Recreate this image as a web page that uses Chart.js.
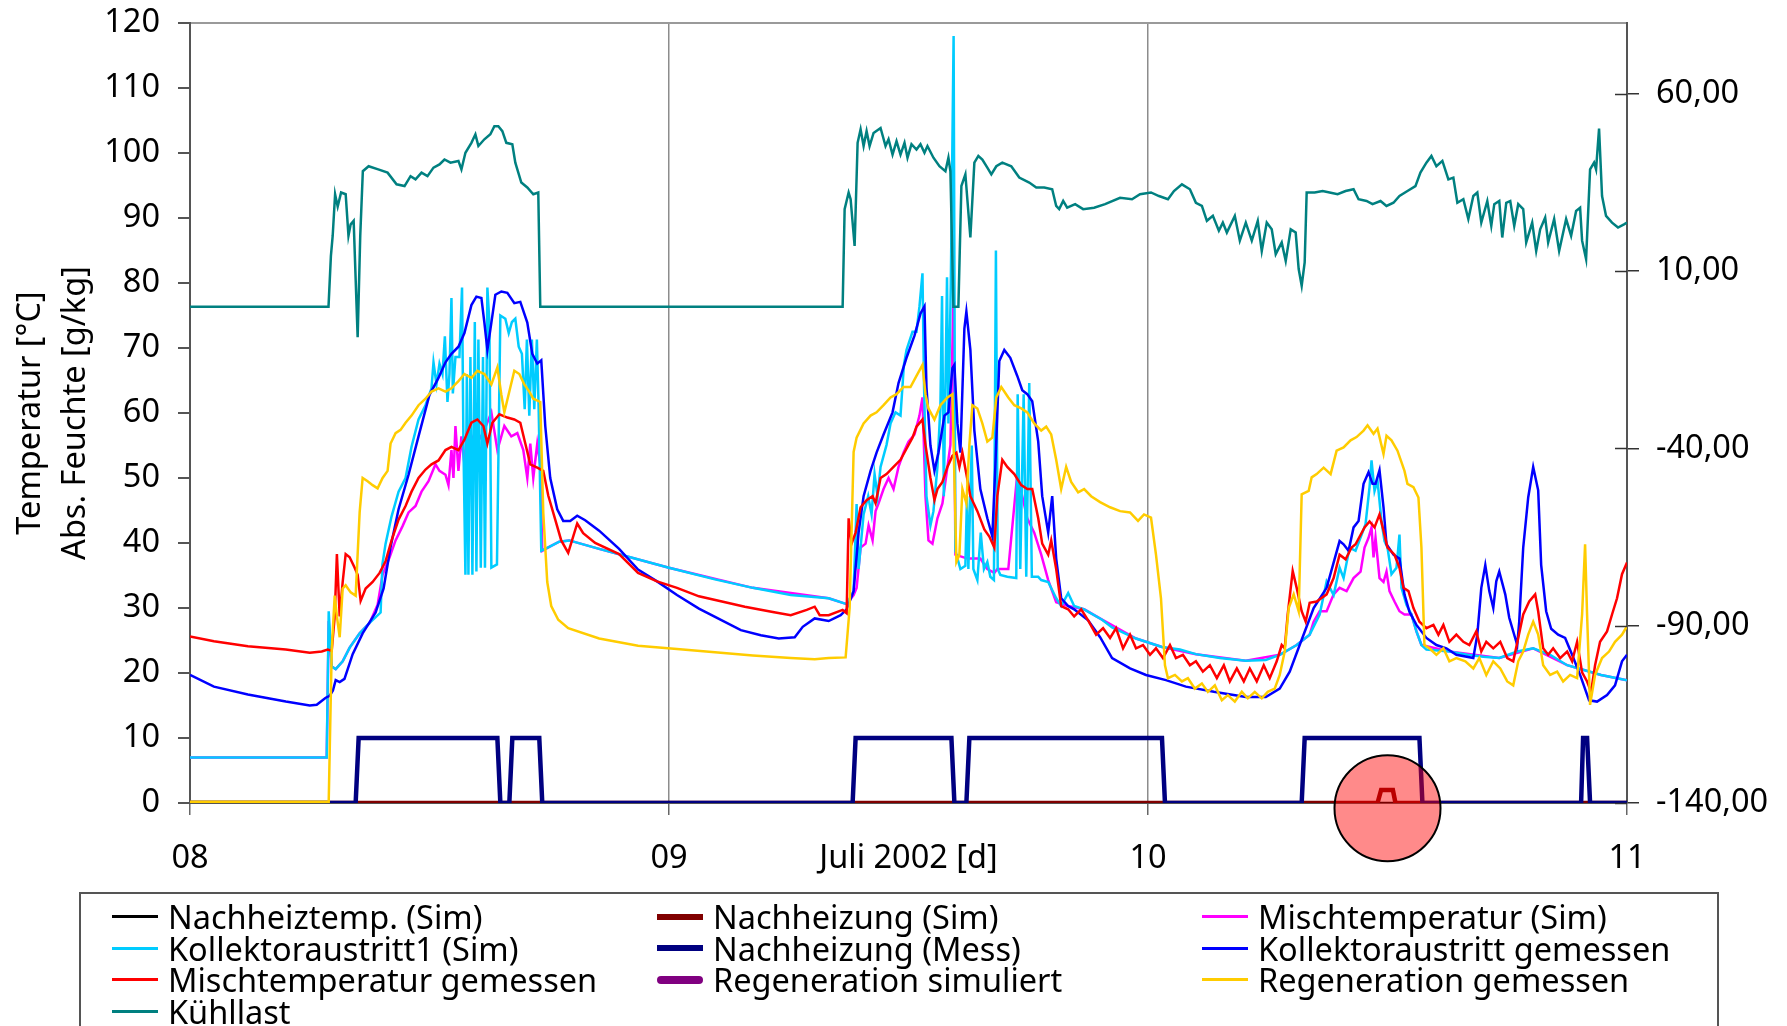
<!DOCTYPE html>
<html>
<head>
<meta charset="utf-8">
<script src="https://cdn.jsdelivr.net/npm/chart.js@4.4.1/dist/chart.umd.min.js"></script>
<style>
html, body { margin: 0; padding: 0; background: #fff; }
#wrap { position: relative; width: 1787px; height: 1026px; overflow: hidden; }
#legend {
    position: absolute; left: 79px; top: 892px; width: 1640px; height: 137px;
    border: 2px solid #555; box-sizing: border-box;
    display: grid; grid-template-columns: 545px 545px 500px; grid-auto-rows: 31.5px;
    padding: 7px 0 0 31px;
    font: 32.5px "Noto Sans", "DejaVu Sans", sans-serif; line-height: 31.5px; color: #000;
}
.item { display: flex; align-items: center; white-space: nowrap; }
.swatch { width: 46px; margin-right: 10px; flex: none; }
</style>
</head>
<body>
<div id="wrap">
    <canvas id="chart" width="1787" height="1026"></canvas>
    <div id="legend"></div>
</div>
<script>
// Hours since 08 Juli 00:00

const xTickHours = [0, 24, 36, 48, 72];
const xTickLabels = ['08', '09', 'Juli 2002 [d]', '10', '11'];
const rightTicks = [-140, -90, -40, 10, 60];
const yTitleLines = ['Temperatur [°C]', 'Abs. Feuchte [g/kg]'];

// Nachheiztemp. (Sim)
const nachheiztempHours = [0, 72];
const nachheiztempValues = [0, 0];

// Nachheizung (Sim)
const nachheizSimHours = [0, 59.5, 59.68, 60.27, 60.4, 72];
const nachheizSimValues = [0, 0, 2, 2, 0, 0];

// Nachheizung (Mess)
const nachheizMessHours = [0, 8.3, 8.45, 15.4, 15.55, 16.0, 16.15, 17.5, 17.65, 33.2,
    33.35, 38.15, 38.3, 38.9, 39.05, 48.7, 48.85, 55.7, 55.85, 61.6,
    61.75, 69.7, 69.8, 70.0, 70.15, 72];
const nachheizMessValues = [0, 0, 10, 10, 0, 0, 10, 10, 0, 0,
    10, 10, 0, 0, 10, 10, 0, 0, 10, 10,
    0, 0, 10, 10, 0, 0];

// Regeneration simuliert (no values in this period)
const regSimHours = [];
const regSimValues = [];

// Kollektoraustritt1 (Sim)
const kollSimHours = [0, 6.85, 6.95, 7.1, 7.3, 7.65, 8.0, 8.5, 9.0, 9.55,
    9.64, 9.8, 10.1, 10.45, 10.8, 11.1, 11.45, 11.8, 12.1, 12.2,
    12.35, 12.5, 12.65, 12.77, 12.9, 13.0, 13.1, 13.17, 13.3, 13.5,
    13.63, 13.7, 13.8, 13.87, 13.95, 14.05, 14.15, 14.27, 14.35, 14.45,
    14.57, 14.68, 14.78, 14.9, 15.0, 15.1, 15.38, 15.55, 15.8, 15.97,
    16.13, 16.3, 16.47, 16.63, 16.77, 16.88, 17.0, 17.13, 17.25, 17.38,
    17.47, 17.6, 18.0, 18.5, 19.0, 20.5, 22.06, 24.0, 26.3, 28.2,
    30.1, 32.0, 32.9, 33.25, 33.4, 33.5, 33.75, 33.98, 34.15, 34.3,
    34.45, 34.6, 34.9, 35.1, 35.35, 35.6, 35.77, 35.9, 36.2, 36.4,
    36.55, 36.7, 36.78, 36.9, 37.1, 37.25, 37.45, 37.6, 37.68, 37.77,
    37.93, 38.0, 38.12, 38.26, 38.35, 38.6, 38.85, 38.93, 39.0, 39.17,
    39.25, 39.45, 39.62, 39.78, 39.95, 40.1, 40.28, 40.38, 40.47, 40.6,
    40.95, 41.4, 41.47, 41.6, 41.77, 41.9, 42.05, 42.18, 42.5, 42.65,
    43.0, 43.4, 43.65, 44.0, 44.3, 44.8, 45.7, 46.2, 47.4, 48.7,
    49.6, 50.4, 51.6, 52.9, 53.9, 54.6, 55.45, 56.1, 56.6, 56.95,
    57.3, 57.6, 57.8, 58.1, 58.4, 58.9, 59.1, 59.2, 59.35, 59.5,
    59.7, 59.85, 60.0, 60.2, 60.45, 60.6, 60.7, 60.95, 61.2, 61.45,
    61.7, 61.95, 63.1, 64.0, 64.8, 65.6, 66.5, 67.3, 68.15, 69.0,
    69.8, 70.7, 71.5, 72];
const kollSimValues = [7.0, 7.0, 29.5, 21.0, 20.6, 21.8, 23.9, 26.1, 27.7, 29.3,
    36.7, 39.9, 44.1, 47.9, 50.0, 54.8, 59.0, 61.2, 63.8, 67.8,
    64.4, 67.6, 66.0, 71.8, 61.7, 66.0, 77.7, 63.0, 68.6, 68.6,
    79.3, 55.3, 35.1, 66.0, 35.1, 68.6, 35.1, 74.0, 35.6, 71.3,
    36.2, 68.6, 36.2, 79.3, 74.0, 36.2, 36.7, 75.0, 74.5, 72.3,
    74.0, 74.5, 70.2, 69.1, 60.6, 71.3, 59.6, 71.3, 60.6, 71.3,
    60.6, 38.8, 39.4, 40.2, 40.4, 39.1, 37.8, 36.2, 34.4, 33.1,
    32.0, 31.5, 30.6, 32.6, 46.0, 36.0, 44.4, 47.2, 44.4, 50.6,
    47.2, 51.7, 55.1, 58.4, 60.1, 59.6, 67.4, 69.7, 72.5, 72.5,
    76.4, 81.5, 64.0, 47.2, 42.7, 44.9, 51.7, 61.2, 78.0, 47.2,
    80.9, 58.4, 79.8, 118.0, 38.8, 36.0, 36.5, 47.2, 36.0, 55.0,
    36.0, 34.3, 41.6, 36.0, 37.1, 34.8, 34.3, 85.0, 36.0, 35.1,
    34.8, 34.6, 62.9, 36.0, 62.9, 34.8, 64.6, 34.8, 34.8, 34.3,
    34.0, 31.5, 30.3, 32.3, 30.3, 29.8, 28.2, 27.0, 25.3, 24.0,
    23.6, 22.9, 22.3, 21.9, 22.0, 22.8, 24.3, 25.9, 29.0, 34.1,
    32.0, 36.2, 34.6, 39.3, 38.8, 42.9, 48.6, 52.7, 48.0, 49.6,
    43.3, 40.3, 39.3, 35.2, 36.2, 41.3, 33.1, 30.5, 29.0, 26.4,
    24.3, 23.6, 23.3, 22.8, 22.5, 22.3, 23.3, 23.8, 22.8, 21.2,
    20.5, 19.7, 19.2, 18.9];

// Kollektoraustritt gemessen
const kollMessHours = [0, 1.2, 2.9, 4.8, 6.0, 6.35, 6.8, 7.0, 7.16, 7.3,
    7.5, 7.74, 8.15, 8.65, 9.3, 9.7, 10.05, 10.45, 10.95, 11.45,
    12.0, 12.45, 12.8, 13.1, 13.45, 13.75, 14.1, 14.35, 14.6, 14.75,
    14.9, 15.1, 15.3, 15.6, 15.9, 16.25, 16.55, 16.9, 17.15, 17.4,
    17.6, 17.8, 18.05, 18.4, 18.7, 19.05, 19.4, 19.8, 20.5, 21.5,
    22.45, 23.4, 24.4, 25.5, 26.65, 27.6, 28.6, 29.5, 30.3, 30.7,
    31.3, 32.0, 32.6, 32.9, 33.25, 33.5, 33.75, 34.1, 34.4, 34.75,
    35.2, 35.5, 35.9, 36.3, 36.6, 36.8, 36.9, 37.1, 37.3, 37.5,
    37.8, 38.0, 38.2, 38.3, 38.45, 38.6, 38.8, 38.9, 39.1, 39.3,
    39.6, 39.95, 40.2, 40.35, 40.55, 40.8, 41.1, 41.45, 41.7, 41.95,
    42.2, 42.5, 42.7, 43.0, 43.2, 43.4, 43.65, 44.0, 44.3, 45.0,
    45.6, 46.2, 47.1, 47.9, 48.9, 49.9, 51.3, 52.9, 53.9, 54.6,
    55.1, 55.6, 56.3, 56.95, 57.6, 57.8, 58.05, 58.3, 58.55, 58.8,
    59.05, 59.25, 59.4, 59.6, 59.8, 59.95, 60.3, 60.6, 60.85, 61.1,
    61.45, 61.95, 62.45, 62.95, 63.45, 64.3, 64.5, 64.7, 64.9, 65.1,
    65.3, 65.45, 65.6, 65.9, 66.1, 66.5, 66.6, 66.8, 67.05, 67.3,
    67.55, 67.7, 67.95, 68.2, 68.55, 68.9, 69.25, 69.65, 70.1, 70.5,
    71.0, 71.4, 71.75, 72];
const kollMessValues = [19.7, 17.9, 16.7, 15.6, 15.0, 15.1, 16.2, 16.5, 17.3, 18.9,
    18.6, 19.1, 22.9, 26.1, 29.3, 33.0, 39.4, 45.2, 50.5, 56.4,
    62.8, 65.4, 67.8, 69.1, 70.2, 72.3, 76.6, 77.9, 77.7, 73.9,
    69.7, 73.9, 78.2, 78.7, 78.5, 76.9, 77.1, 73.9, 69.1, 67.6,
    68.1, 58.0, 50.0, 45.2, 43.4, 43.4, 44.2, 43.5, 41.9, 39.1,
    35.9, 34.1, 32.0, 29.9, 28.1, 26.6, 25.8, 25.3, 25.5, 27.1,
    28.4, 28.0, 28.9, 29.8, 32.6, 41.6, 47.2, 51.1, 53.9, 56.7,
    60.1, 64.6, 68.5, 71.9, 75.3, 76.4, 64.0, 55.0, 51.1, 53.9,
    59.6, 60.1, 66.9, 67.4, 58.4, 53.9, 73.0, 75.6, 69.7, 57.3,
    48.3, 43.8, 41.0, 51.7, 68.0, 69.7, 68.5, 65.7, 63.5, 62.9,
    61.8, 55.6, 47.2, 41.6, 47.2, 37.6, 31.5, 30.3, 29.8, 28.1,
    25.5, 22.3, 20.7, 19.7, 18.9, 17.9, 17.1, 16.3, 16.3, 17.6,
    20.2, 24.3, 30.0, 33.1, 40.3, 39.8, 38.8, 42.4, 43.4, 49.1,
    50.9, 49.1, 49.1, 51.2, 45.5, 39.8, 38.2, 37.6, 32.1, 29.4,
    27.4, 25.4, 24.3, 23.8, 22.8, 22.3, 25.9, 33.1, 36.6, 32.6,
    30.0, 34.1, 35.6, 32.1, 28.5, 24.3, 27.9, 39.3, 47.0, 51.7,
    48.1, 36.6, 29.5, 26.8, 25.9, 25.4, 22.8, 19.7, 15.8, 15.6,
    16.6, 18.1, 21.8, 22.8];

// Mischtemperatur gemessen
const mischMessHours = [0, 1.2, 2.9, 4.8, 6.0, 6.6, 6.9, 7.1, 7.25, 7.36,
    7.5, 7.65, 7.8, 8.0, 8.25, 8.4, 8.55, 8.8, 9.15, 9.5,
    9.8, 10.1, 10.45, 10.8, 11.1, 11.45, 11.8, 12.1, 12.45, 12.8,
    13.1, 13.45, 13.75, 14.1, 14.4, 14.7, 14.9, 15.15, 15.5, 15.9,
    16.25, 16.55, 16.8, 17.05, 17.4, 17.7, 17.95, 18.3, 18.6, 18.95,
    19.4, 19.7, 20.3, 21.5, 22.45, 23.4, 24.4, 25.5, 26.65, 27.8,
    29.2, 30.1, 30.9, 31.3, 31.55, 32.0, 32.7, 32.9, 33.0, 33.15,
    33.35, 33.6, 33.9, 34.2, 34.35, 34.6, 34.9, 35.25, 35.6, 35.9,
    36.2, 36.4, 36.7, 36.85, 37.1, 37.3, 37.45, 37.7, 37.95, 38.2,
    38.4, 38.55, 38.7, 38.9, 39.1, 39.45, 39.8, 40.05, 40.3, 40.45,
    40.7, 40.95, 41.3, 41.65, 41.95, 42.2, 42.5, 42.7, 43.0, 43.15,
    43.4, 43.65, 44.0, 44.3, 44.65, 45.0, 45.4, 45.75, 46.1, 46.4,
    46.75, 47.1, 47.4, 47.75, 48.1, 48.4, 48.75, 49.1, 49.4, 49.75,
    50.1, 50.4, 50.75, 51.1, 51.45, 51.8, 52.1, 52.45, 52.8, 53.1,
    53.45, 53.8, 54.1, 54.45, 54.7, 54.85, 55.0, 55.25, 55.45, 55.7,
    55.9, 56.1, 56.45, 56.95, 57.3, 57.6, 57.9, 58.2, 58.4, 58.85,
    59.1, 59.35, 59.6, 59.8, 60.0, 60.35, 60.6, 60.8, 61.05, 61.3,
    61.6, 61.95, 62.3, 62.55, 62.8, 63.1, 63.45, 63.8, 64.1, 64.45,
    64.7, 64.95, 65.3, 65.65, 66.0, 66.3, 66.55, 66.8, 67.1, 67.4,
    67.55, 67.8, 68.05, 68.3, 68.65, 69.0, 69.25, 69.5, 69.75, 70.0,
    70.2, 70.4, 70.65, 71.0, 71.25, 71.5, 71.75, 72];
const mischMessValues = [25.6, 24.9, 24.1, 23.6, 23.1, 23.3, 23.6, 23.4, 28.7, 38.3,
    28.7, 34.0, 38.3, 37.8, 36.2, 35.1, 31.1, 33.0, 34.0, 35.4,
    37.2, 40.4, 43.6, 45.7, 47.9, 50.0, 51.3, 52.1, 52.7, 54.3,
    54.8, 54.3, 55.9, 58.5, 59.0, 58.0, 55.3, 58.5, 59.8, 59.3,
    59.0, 58.5, 55.3, 52.1, 51.6, 51.1, 47.3, 43.6, 40.4, 38.5,
    43.0, 41.5, 40.0, 38.3, 35.4, 34.1, 33.1, 31.8, 31.0, 30.2,
    29.4, 28.9, 29.7, 30.2, 28.9, 28.9, 29.7, 29.2, 43.8, 39.9,
    41.6, 45.5, 46.6, 47.2, 46.1, 50.0, 50.6, 51.7, 52.8, 54.5,
    56.2, 57.9, 59.0, 55.1, 50.0, 46.6, 48.3, 49.4, 51.7, 53.4,
    53.9, 51.7, 53.9, 50.6, 47.2, 44.9, 42.1, 41.0, 39.3, 47.2,
    52.8, 51.7, 50.6, 48.9, 48.3, 48.3, 43.8, 39.9, 38.2, 40.4,
    36.0, 30.3, 29.8, 28.7, 29.8, 28.1, 25.9, 26.9, 25.4, 26.9,
    23.8, 25.9, 23.8, 24.3, 22.8, 23.8, 22.3, 24.3, 22.3, 22.8,
    21.2, 21.8, 20.2, 21.2, 19.2, 21.2, 18.7, 20.7, 18.7, 20.7,
    18.7, 21.2, 19.2, 21.8, 24.3, 23.8, 29.0, 35.7, 33.1, 29.5,
    27.9, 30.8, 31.0, 32.1, 34.6, 38.2, 37.5, 39.3, 39.8, 42.4,
    43.3, 42.4, 44.4, 41.9, 39.3, 38.2, 36.2, 33.1, 32.6, 30.0,
    27.9, 26.9, 27.4, 25.9, 27.4, 24.8, 25.9, 24.8, 24.3, 26.4,
    23.3, 24.8, 23.8, 24.8, 22.3, 21.8, 25.4, 29.0, 31.0, 32.1,
    29.5, 23.8, 22.8, 23.8, 22.3, 23.3, 21.8, 24.8, 20.1, 18.7,
    17.1, 21.2, 24.8, 26.4, 29.0, 31.5, 35.2, 37.0];

// Mischtemperatur (Sim)
const mischSimHours = [0, 6.85, 6.95, 7.1, 7.3, 7.65, 8.0, 8.5, 9.0, 9.4,
    9.65, 10.0, 10.3, 10.65, 10.95, 11.3, 11.6, 11.95, 12.3, 12.5,
    12.8, 12.95, 13.1, 13.2, 13.3, 13.45, 13.6, 13.75, 13.9, 14.3,
    14.7, 15.1, 15.4, 15.75, 16.1, 16.4, 16.7, 16.9, 17.05, 17.2,
    17.4, 17.55, 17.65, 18.0, 18.5, 19.0, 20.5, 24.0, 28.2, 32.0,
    32.9, 33.25, 33.4, 33.6, 33.85, 34.0, 34.2, 34.35, 34.5, 34.75,
    35.0, 35.25, 35.5, 35.75, 36.0, 36.3, 36.55, 36.7, 36.85, 37.0,
    37.2, 37.45, 37.7, 37.95, 38.1, 38.25, 38.35, 38.95, 39.6, 39.95,
    40.3, 40.45, 41.0, 41.45, 41.7, 41.95, 42.3, 42.65, 43.0, 43.4,
    44.0, 44.8, 45.7, 47.4, 48.7, 50.4, 52.9, 54.6, 55.45, 56.1,
    56.3, 56.6, 56.95, 57.3, 57.6, 57.95, 58.3, 58.65, 58.85, 59.05,
    59.2, 59.3, 59.4, 59.6, 59.8, 59.95, 60.1, 60.35, 60.6, 60.85,
    61.2, 61.45, 61.7, 63.1, 65.6, 67.3, 69.0, 70.7, 72];
const mischSimValues = [7.0, 7.0, 28.0, 21.0, 20.6, 21.8, 23.9, 26.1, 27.7, 30.5,
    35.1, 37.8, 40.4, 42.6, 44.7, 45.7, 47.9, 49.5, 52.1, 51.1,
    50.5, 48.9, 54.3, 50.0, 58.0, 51.1, 56.4, 52.1, 58.0, 55.0,
    57.0, 60.1, 54.3, 58.0, 56.4, 56.9, 54.3, 50.0, 55.3, 50.0,
    55.3, 52.1, 38.8, 39.4, 40.2, 40.4, 39.1, 36.2, 33.1, 31.5,
    30.6, 32.0, 33.1, 39.3, 39.9, 42.7, 40.4, 44.9, 46.1, 48.3,
    50.0, 48.3, 51.7, 53.9, 55.6, 56.7, 59.6, 62.4, 47.2, 40.4,
    39.9, 43.8, 46.1, 51.7, 55.1, 78.0, 38.2, 37.6, 37.6, 36.0,
    35.4, 36.0, 36.0, 50.6, 47.2, 43.8, 41.6, 38.2, 34.3, 30.9,
    30.3, 29.8, 28.2, 25.3, 24.0, 22.9, 21.9, 22.8, 24.3, 25.9,
    27.9, 29.5, 29.5, 32.1, 33.1, 32.6, 34.6, 35.6, 39.3, 40.8,
    42.4, 37.8, 40.8, 34.6, 34.0, 35.6, 32.6, 31.0, 29.5, 29.0,
    29.0, 26.4, 24.3, 23.3, 22.3, 23.8, 21.2, 19.7, 18.9];

// Regeneration gemessen
const regMessHours = [0, 6.95, 7.1, 7.25, 7.36, 7.5, 7.65, 7.8, 8.05, 8.3,
    8.5, 8.65, 8.9, 9.15, 9.4, 9.65, 9.9, 10.05, 10.3, 10.55,
    10.8, 11.1, 11.45, 11.8, 12.1, 12.45, 12.8, 13.1, 13.45, 13.75,
    14.1, 14.4, 14.75, 15.1, 15.4, 15.6, 15.75, 16.0, 16.25, 16.5,
    16.75, 17.0, 17.2, 17.55, 17.7, 17.9, 18.1, 18.45, 18.95, 20.5,
    22.45, 24.4, 26.3, 28.2, 30.1, 31.3, 32.0, 32.85, 33.05, 33.25,
    33.4, 33.75, 34.1, 34.4, 34.75, 35.1, 35.4, 35.75, 36.1, 36.4,
    36.7, 36.85, 37.0, 37.3, 37.6, 37.95, 38.2, 38.4, 38.55, 38.7,
    38.9, 39.05, 39.2, 39.45, 39.7, 39.95, 40.2, 40.4, 40.65, 41.0,
    41.3, 41.65, 41.95, 42.3, 42.65, 42.9, 43.15, 43.4, 43.65, 43.9,
    44.15, 44.5, 44.8, 45.15, 45.6, 46.1, 46.6, 47.1, 47.5, 47.8,
    48.15, 48.4, 48.65, 48.85, 49.0, 49.35, 49.7, 50.0, 50.35, 50.7,
    51.0, 51.35, 51.7, 52.0, 52.35, 52.7, 53.0, 53.35, 53.7, 54.0,
    54.35, 54.6, 54.85, 55.05, 55.3, 55.55, 55.7, 56.05, 56.2, 56.45,
    56.8, 57.15, 57.45, 57.8, 58.15, 58.45, 58.8, 59.0, 59.3, 59.5,
    59.8, 59.95, 60.2, 60.5, 60.85, 61.0, 61.3, 61.55, 61.7, 61.85,
    62.1, 62.45, 62.8, 63.1, 63.45, 63.9, 64.3, 64.6, 64.95, 65.3,
    65.65, 66.0, 66.3, 66.55, 66.8, 67.05, 67.3, 67.55, 67.8, 68.15,
    68.5, 68.8, 69.15, 69.5, 69.75, 69.9, 70.0, 70.15, 70.4, 70.75,
    71.1, 71.4, 71.75, 72];
const regMessValues = [0.2, 0.2, 23.4, 31.9, 28.7, 25.5, 33.0, 33.5, 32.4, 31.9,
    44.7, 50.0, 49.5, 48.9, 48.4, 50.0, 51.1, 55.3, 56.9, 57.4,
    58.5, 59.6, 61.2, 62.2, 63.3, 63.8, 63.3, 63.8, 64.9, 66.0,
    65.4, 66.5, 66.0, 64.4, 67.0, 62.8, 60.1, 63.3, 66.5, 66.0,
    64.4, 63.3, 62.2, 61.7, 44.7, 34.0, 30.3, 28.2, 26.9, 25.3,
    24.2, 23.7, 23.2, 22.7, 22.3, 22.1, 22.3, 22.4, 30.0, 54.0,
    56.2, 58.4, 59.6, 60.1, 61.2, 62.4, 62.9, 64.0, 64.0, 65.7,
    67.4, 62.9, 60.7, 59.0, 61.2, 62.4, 62.9, 37.1, 38.2, 48.3,
    46.1, 55.1, 61.2, 60.7, 58.4, 55.6, 56.2, 62.4, 64.0, 62.4,
    61.2, 60.7, 60.1, 58.4, 57.3, 57.9, 56.7, 52.8, 48.3, 51.7,
    49.4, 47.8, 48.3, 47.2, 46.3, 45.5, 44.9, 44.7, 43.4, 44.4,
    43.9, 38.2, 31.5, 21.2, 19.2, 19.7, 18.7, 19.2, 17.6, 18.4,
    17.1, 18.1, 15.8, 16.6, 15.6, 17.1, 16.1, 17.1, 16.1, 17.1,
    17.6, 19.7, 23.3, 30.0, 32.1, 29.5, 47.5, 48.0, 50.1, 50.6,
    51.6, 50.6, 54.2, 54.7, 55.8, 56.3, 57.3, 58.1, 56.8, 57.6,
    53.7, 56.5, 55.8, 54.2, 51.1, 49.1, 48.6, 47.0, 39.3, 24.3,
    23.8, 22.8, 23.8, 21.8, 22.3, 21.8, 20.7, 22.3, 19.7, 21.8,
    20.7, 18.7, 18.1, 21.8, 23.3, 25.9, 27.9, 25.9, 21.2, 19.7,
    20.2, 18.7, 19.7, 19.2, 29.0, 39.8, 29.0, 15.1, 19.7, 22.3,
    23.3, 24.8, 25.9, 27.2];

// Kühllast (right axis)
const kuehllastHours = [0, 6.94, 7.06, 7.15, 7.27, 7.4, 7.57, 7.8, 7.94, 8.05,
    8.2, 8.4, 8.53, 8.66, 8.95, 9.43, 9.9, 10.35, 10.75, 11.05,
    11.3, 11.6, 11.9, 12.2, 12.5, 12.75, 13.05, 13.45, 13.6, 13.8,
    14.1, 14.3, 14.45, 14.75, 15.05, 15.25, 15.45, 15.65, 15.85, 16.15,
    16.3, 16.6, 16.9, 17.2, 17.45, 17.55, 32.7, 32.8, 33.0, 33.1,
    33.3, 33.45, 33.6, 33.75, 33.9, 34.05, 34.25, 34.6, 34.85, 35.0,
    35.2, 35.4, 35.6, 35.8, 35.95, 36.15, 36.4, 36.6, 36.8, 36.95,
    37.25, 37.55, 37.85, 38.0, 38.1, 38.25, 38.5, 38.65, 38.85, 39.1,
    39.3, 39.5, 39.7, 39.95, 40.15, 40.4, 40.7, 41.15, 41.55, 42.05,
    42.4, 42.8, 43.2, 43.4, 43.55, 43.75, 43.95, 44.35, 44.75, 45.3,
    45.85, 46.6, 47.2, 47.6, 48.15, 48.55, 49.0, 49.3, 49.7, 50.1,
    50.4, 50.7, 50.95, 51.25, 51.55, 51.75, 51.95, 52.35, 52.6, 52.9,
    53.2, 53.5, 53.7, 53.95, 54.2, 54.4, 54.7, 54.9, 55.15, 55.4,
    55.55, 55.7, 55.85, 55.95, 56.35, 56.75, 57.1, 57.5, 57.9, 58.3,
    58.55, 58.95, 59.25, 59.65, 59.95, 60.3, 60.6, 61.0, 61.4, 61.65,
    61.95, 62.2, 62.45, 62.75, 63.05, 63.3, 63.5, 63.8, 64.05, 64.3,
    64.5, 64.7, 65.0, 65.2, 65.35, 65.6, 65.75, 65.95, 66.15, 66.35,
    66.55, 66.8, 66.95, 67.25, 67.45, 67.65, 67.9, 68.05, 68.35, 68.6,
    68.95, 69.2, 69.45, 69.65, 69.75, 69.95, 70.15, 70.35, 70.45, 70.6,
    70.75, 70.95, 71.25, 71.55, 71.85, 72];
const kuehllastValues = [0, 0, 14.3, 20.0, 31.7, 28.2, 32.2, 31.7, 20.0, 23.2,
    24.2, -8.6, 20.0, 38.2, 39.6, 38.7, 37.8, 34.5, 34.0, 36.8,
    35.9, 37.8, 36.8, 39.2, 40.1, 41.5, 40.6, 41.1, 38.7, 43.4,
    46.2, 48.6, 45.3, 47.2, 48.6, 50.9, 50.9, 49.5, 46.2, 45.8,
    40.6, 35.0, 33.6, 31.7, 32.2, 0, 0, 27.5, 32.2, 30.3,
    17.1, 46.2, 50.0, 45.3, 49.5, 45.3, 49.0, 50.4, 45.3, 47.2,
    42.9, 46.7, 42.9, 46.2, 42.0, 45.8, 44.3, 45.8, 43.4, 45.3,
    42.0, 39.6, 38.2, 42.0, 38.2, 0, 0, 34.0, 37.3, 19.5,
    40.6, 42.5, 41.5, 39.2, 37.3, 39.6, 40.6, 39.6, 36.4, 35.0,
    33.6, 33.6, 33.1, 28.4, 27.5, 29.8, 27.9, 28.9, 27.5, 27.9,
    28.9, 30.7, 30.3, 31.7, 32.2, 31.2, 30.3, 32.6, 34.5, 33.1,
    29.3, 28.4, 24.2, 25.6, 21.4, 23.7, 20.9, 25.6, 18.6, 23.7,
    18.6, 24.2, 15.7, 23.7, 21.8, 14.8, 18.1, 12.9, 21.8, 20.9,
    10.6, 5.9, 12.5, 32.2, 32.2, 32.6, 32.2, 31.7, 32.6, 33.1,
    30.3, 29.8, 28.9, 29.8, 28.4, 29.3, 31.2, 32.6, 34.0, 37.8,
    40.6, 42.5, 39.6, 41.1, 35.9, 36.4, 29.3, 30.3, 24.7, 31.2,
    32.2, 23.7, 29.8, 22.8, 28.9, 29.8, 19.5, 29.3, 29.8, 22.8,
    28.9, 27.5, 18.1, 23.7, 15.7, 21.8, 25.1, 18.1, 24.7, 15.7,
    24.7, 20.0, 27.0, 27.9, 18.6, 13.4, 38.7, 40.6, 38.7, 50.2,
    31.2, 25.6, 23.7, 22.3, 23.2, 23.7];

// red circle marking the small Nachheizung (Sim) pulse
const markHour = 60.0;
const markValue = -0.8;

const FONT = '"Noto Sans", "DejaVu Sans", sans-serif';

const series = [
    { label: 'Nachheiztemp. (Sim)', hours: nachheiztempHours, values: nachheiztempValues, color: '#000000', width: 2.5, axis: 'y', swatch: 3 },
    { label: 'Nachheizung (Sim)', hours: nachheizSimHours, values: nachheizSimValues, color: '#800000', width: 4.5, axis: 'y', swatch: 6 },
    { label: 'Mischtemperatur (Sim)', hours: mischSimHours, values: mischSimValues, color: '#ff00ff', width: 2.5, axis: 'y', swatch: 3 },
    { label: 'Kollektoraustritt1 (Sim)', hours: kollSimHours, values: kollSimValues, color: '#00ccff', width: 2.5, axis: 'y', swatch: 3 },
    { label: 'Nachheizung (Mess)', hours: nachheizMessHours, values: nachheizMessValues, color: '#000080', width: 4.5, axis: 'y', swatch: 6 },
    { label: 'Kollektoraustritt gemessen', hours: kollMessHours, values: kollMessValues, color: '#0000ff', width: 2.5, axis: 'y', swatch: 3 },
    { label: 'Mischtemperatur gemessen', hours: mischMessHours, values: mischMessValues, color: '#ff0000', width: 2.5, axis: 'y', swatch: 3 },
    { label: 'Regeneration simuliert', hours: regSimHours, values: regSimValues, color: '#800080', width: 6, axis: 'y', swatch: 8 },
    { label: 'Regeneration gemessen', hours: regMessHours, values: regMessValues, color: '#ffcc00', width: 2.5, axis: 'y', swatch: 3 },
    { label: 'Kühllast', hours: kuehllastHours, values: kuehllastValues, color: '#008080', width: 2.5, axis: 'y1', swatch: 3 }
];

const datasets = series.map((s, i) => ({
    label: s.label,
    data: s.hours.map((h, k) => ({ x: h, y: s.values[k] })),
    borderColor: s.color,
    backgroundColor: s.color,
    borderWidth: s.width,
    yAxisID: s.axis,
    pointRadius: 0,
    tension: 0,
    order: -i   // later series drawn on top, like the original
}));

datasets.push({
    label: 'Markierung',
    data: [{ x: markHour, y: markValue }],
    showLine: false,
    pointRadius: 53,
    pointBackgroundColor: 'rgba(255, 0, 0, 0.46)',
    pointBorderColor: '#000',
    pointBorderWidth: 2,
    clip: false,
    yAxisID: 'y',
    order: -100
});

// right axis ticks cross the axis line
const innerTicks = {
    id: 'innerTicks',
    afterDraw(chart) {
        const s = chart.scales.y1;
        const c = chart.ctx;
        c.save();
        c.strokeStyle = '#333';
        c.lineWidth = 1.5;
        s.ticks.forEach(t => {
            const y = Math.round(s.getPixelForValue(t.value)) + 0.5;
            c.beginPath();
            c.moveTo(s.left - 12, y);
            c.lineTo(s.left, y);
            c.stroke();
        });
        c.restore();
    }
};

// fixed axis sizes; label overhang must not push the plot area down
const fixWidth = w => s => {
    s.width = w;
    s.paddingTop = 0;
    s.paddingBottom = 0;
};

const tickFont = { family: FONT, size: 32.5 };

new Chart(document.getElementById('chart').getContext('2d'), {
    type: 'line',
    data: { datasets },
    plugins: [innerTicks],
    options: {
        responsive: false,
        devicePixelRatio: 1,
        animation: false,
        events: [],
        layout: { autoPadding: false, padding: { left: 0, right: 0, top: 23, bottom: 123 } },
        plugins: { legend: { display: false }, tooltip: { enabled: false } },
        scales: {
            x: {
                type: 'linear',
                min: 0, max: 72,
                afterBuildTicks: s => { s.ticks = xTickHours.map(v => ({ value: v })); },
                afterFit: s => { s.height = 100; },
                ticks: {
                    callback: (v, i) => xTickLabels[i],
                    font: tickFont, color: '#000', padding: 24,
                    maxRotation: 0, autoSkip: false
                },
                grid: {
                    color: ctx => (ctx.tick && (ctx.tick.value === 24 || ctx.tick.value === 48)) ? '#8c8c8c' : 'transparent',
                    tickColor: ctx => (ctx.tick && ctx.tick.value === 36) ? 'transparent' : '#666',
                    lineWidth: 1.5,
                    tickLength: 12
                },
                border: { color: '#555', width: 2 }
            },
            y: {
                position: 'left',
                min: 0, max: 120,
                afterFit: fixWidth(190),
                ticks: { stepSize: 10, font: tickFont, color: '#000', padding: 18 },
                grid: {
                    color: ctx => (ctx.tick && ctx.tick.value === 120) ? '#9a9a9a' : 'transparent',
                    tickColor: '#555',
                    lineWidth: 2,
                    tickLength: 12
                },
                border: { color: '#555', width: 2 },
                title: {
                    display: true,
                    text: yTitleLines,
                    color: '#000',
                    font: { family: FONT, size: 32.5, lineHeight: 1.38 },
                    padding: { top: 8.6, bottom: 0 }
                }
            },
            y1: {
                position: 'right',
                min: -140, max: 80,
                afterBuildTicks: s => { s.ticks = rightTicks.map(v => ({ value: v })); },
                afterFit: fixWidth(160),
                ticks: {
                    callback: v => v.toFixed(2).replace('.', ','),
                    font: tickFont, color: '#000', padding: 17
                },
                grid: { drawOnChartArea: false, tickColor: '#333', tickLength: 12, lineWidth: 1.5 },
                border: { color: '#555', width: 2 }
            }
        }
    }
});

// legend laid out like the original three column box
const legendBox = document.getElementById('legend');
series.forEach(s => {
    const item = document.createElement('div');
    item.className = 'item';
    const sw = document.createElement('span');
    sw.className = 'swatch';
    sw.style.height = s.swatch + 'px';
    sw.style.background = s.color;
    if (s.swatch > 6) sw.style.borderRadius = '4px';
    const tx = document.createElement('span');
    tx.textContent = s.label;
    item.appendChild(sw);
    item.appendChild(tx);
    legendBox.appendChild(item);
});
</script>
</body>
</html>
